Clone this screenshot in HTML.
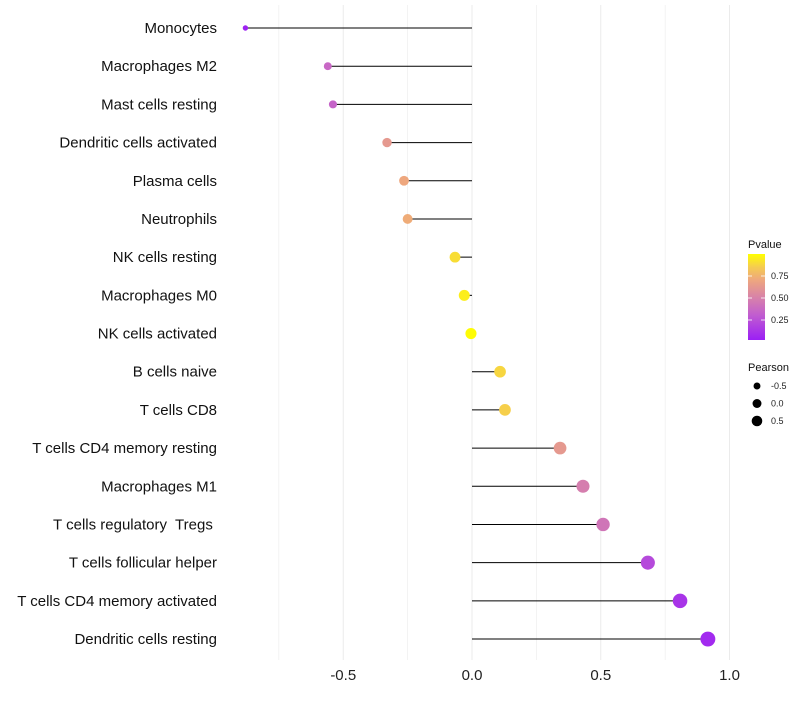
<!DOCTYPE html>
<html><head><meta charset="utf-8"><style>
body{margin:0;background:#fff;font-family:"Liberation Sans",sans-serif}
text{white-space:pre}
</style></head><body>
<svg id="chart" width="800" height="700"></svg>
<script>
const categories=["Monocytes","Macrophages M2","Mast cells resting","Dendritic cells activated","Plasma cells","Neutrophils","NK cells resting","Macrophages M0","NK cells activated","B cells naive","T cells CD8","T cells CD4 memory resting","Macrophages M1","T cells regulatory  Tregs ","T cells follicular helper","T cells CD4 memory activated","Dendritic cells resting"];
const pearson=[-0.88,-0.56,-0.54,-0.33,-0.264,-0.25,-0.066,-0.03,-0.004,0.109,0.128,0.342,0.431,0.509,0.683,0.808,0.916];
const pvalue=[0.02,0.35,0.33,0.62,0.7,0.72,0.9,0.95,0.99,0.88,0.86,0.62,0.47,0.42,0.2,0.1,0.05];
const xTicks=[-0.5,0,0.5,1.0];
const xTickLabels=["-0.5","0.0","0.5","1.0"];
const pTicks=[0.25,0.5,0.75];
const sizeTicks=[-0.5,0,0.5];

const svg=document.getElementById('chart');
const NS="http://www.w3.org/2000/svg";
function mk(t,a,p){const e=document.createElementNS(NS,t);for(const k in a)e.setAttribute(k,a[k]);(p||svg).appendChild(e);return e;}
const x=v=>472+v*257.5;
const y=i=>28+i*38.19;
const r=v=>Math.sqrt(Math.max(2,31+27*v));
const lr=v=>Math.sqrt(Math.max(2,20+16*v));
const stops=[[0,[155,31,245]],[0.3,[194,95,206]],[0.5,[216,131,168]],[0.7,[238,167,126]],[0.85,[245,204,80]],[1,[255,255,0]]];
function col(p){for(let i=1;i<stops.length;i++){if(p<=stops[i][0]){const a=stops[i-1],b=stops[i],t=(p-a[0])/(b[0]-a[0]);return 'rgb('+a[1].map((c,j)=>Math.round(c+(b[1][j]-c)*t)).join(',')+')';}}return 'rgb(255,255,0)';}

for(let v=-0.75;v<=1.0;v+=0.25){
  const g=mk('line',{x1:x(v),x2:x(v),y1:5,y2:660,stroke:'#ebebeb','stroke-width':(Math.abs(v*2-Math.round(v*2))<1e-6)?1:0.6});
  
  
}
categories.forEach((c,i)=>{
  const t=mk('text',{x:217,y:y(i)+5,'text-anchor':'end','font-size':15,fill:'#111'});
  t.textContent=c;
  
  
  const l=mk('line',{x1:x(0),x2:x(pearson[i]),y1:y(i),y2:y(i),stroke:'#000','stroke-width':1});
  
  
  const d=mk('circle',{cx:x(pearson[i]),cy:y(i),r:r(pearson[i]),fill:col(pvalue[i])});
  
  
});
xTicks.forEach((v,i)=>{
  const t=mk('text',{x:x(v),y:680,'text-anchor':'middle','font-size':15,fill:'#222'});
  t.textContent=xTickLabels[i];
  
  
});
const defs=mk('defs',{});
const lg=mk('linearGradient',{id:'pg',x1:0,y1:1,x2:0,y2:0},defs);
stops.forEach(s=>mk('stop',{offset:s[0],'stop-color':'rgb('+s[1].join(',')+')'},lg));
const lt=mk('text',{x:748,y:248,'font-size':11,fill:'#111'});lt.textContent='Pvalue';


const bar=mk('rect',{x:748,y:254,width:17,height:86,fill:'url(#pg)'});


const py=p=>342-p*88;
pTicks.forEach(p=>{
  mk('line',{x1:748,x2:752,y1:py(p),y2:py(p),stroke:'#fff','stroke-width':0.8});
  mk('line',{x1:761,x2:765,y1:py(p),y2:py(p),stroke:'#fff','stroke-width':0.8});
  const t=mk('text',{x:771,y:py(p)+3,'font-size':9,fill:'#222'});t.textContent=p.toFixed(2);
  
  
});
const st=mk('text',{x:748,y:371,'font-size':11,fill:'#111'});st.textContent='Pearson';


sizeTicks.forEach((v,i)=>{
  const cy=386+i*17.5;
  const c=mk('circle',{cx:757,cy:cy,r:lr(v),fill:'#000'});
  
  
  const t=mk('text',{x:771,y:cy+3,'font-size':9,fill:'#222'});t.textContent=v.toFixed(1);
  
  
});
</script>
</body></html>
